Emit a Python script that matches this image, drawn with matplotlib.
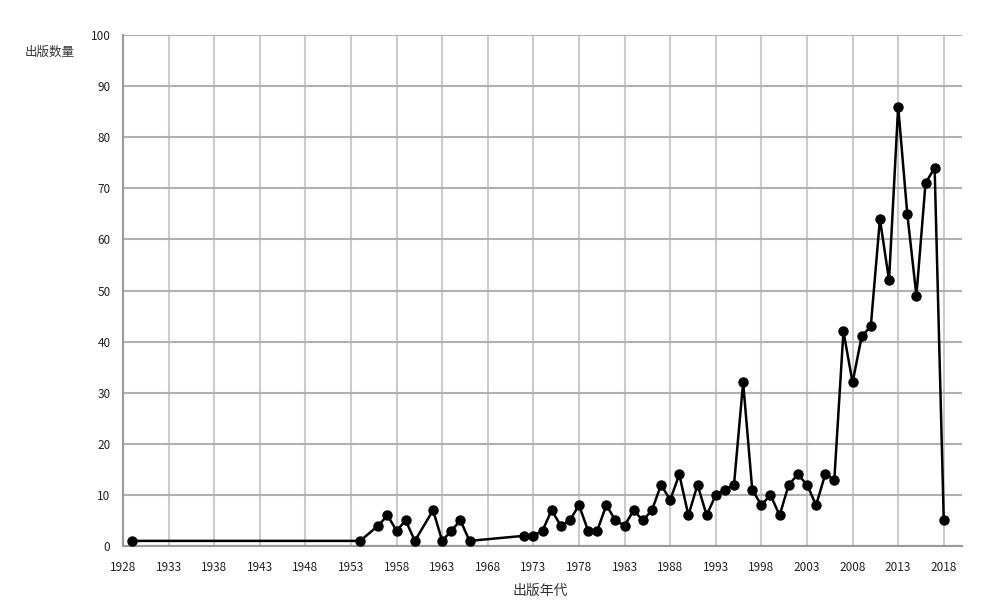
import matplotlib
matplotlib.use("Agg")
import matplotlib.pyplot as plt

plt.rcParams['font.family'] = ['Noto Sans CJK SC', 'DejaVu Sans']

years = [1929, 1954, 1956, 1957, 1958, 1959, 1960, 1962, 1963, 1964, 1965, 1966,
         1972, 1973, 1974, 1975, 1976, 1977, 1978, 1979, 1980, 1981, 1982, 1983,
         1984, 1985, 1986, 1987, 1988, 1989, 1990, 1991, 1992, 1993, 1994, 1995,
         1996, 1997, 1998, 1999, 2000, 2001, 2002, 2003, 2004, 2005, 2006, 2007,
         2008, 2009, 2010, 2011, 2012, 2013, 2014, 2015, 2016, 2017, 2018]
counts = [1, 1, 4, 6, 3, 5, 1, 7, 1, 3, 5, 1,
          2, 2, 3, 7, 4, 5, 8, 3, 3, 8, 5, 4,
          7, 5, 7, 12, 9, 14, 6, 12, 6, 10, 11, 12,
          32, 11, 8, 10, 6, 12, 14, 12, 8, 14, 13, 42,
          32, 41, 43, 64, 52, 86, 65, 49, 71, 74, 5]
x_ticks = list(range(1928, 2019, 5))
y_ticks = list(range(0, 101, 10))
x_label = "出版年代"
y_label = "出版数量"

fig = plt.figure(figsize=(9.83, 6.09), dpi=100)
ax = fig.add_axes([123/983, 1-546/609, (962-123)/983, (546-35)/609])

ax.plot(years, counts, color='black', linewidth=1.8, marker='o',
        markersize=6.5, markerfacecolor='black', markeredgecolor='black', zorder=3)

ax.set_xlim(1928, 2020)
ax.set_ylim(0, 100)
ax.set_xticks(x_ticks)
ax.set_yticks(y_ticks)
ax.tick_params(axis='both', length=0, labelsize=8.5, colors='#222222')
ax.tick_params(axis='x', pad=11)
ax.tick_params(axis='y', pad=9)
ax.xaxis.grid(True, color='#cccccc', linewidth=1.5)
ax.yaxis.grid(True, color='#b0b0b0', linewidth=1.5)
ax.set_axisbelow(True)
for s in ['top', 'right']:
    ax.spines[s].set_visible(False)
for s in ['left', 'bottom']:
    ax.spines[s].set_color('#999999')
    ax.spines[s].set_linewidth(1.5)

fig.text(540/983, 1-591/609, x_label, ha='center', va='center', fontsize=10, color='#333333')
fig.text(50/983, 1-52/609, y_label, ha='center', va='center', fontsize=9, color='#333333')

fig.savefig('out.png', dpi=100)
